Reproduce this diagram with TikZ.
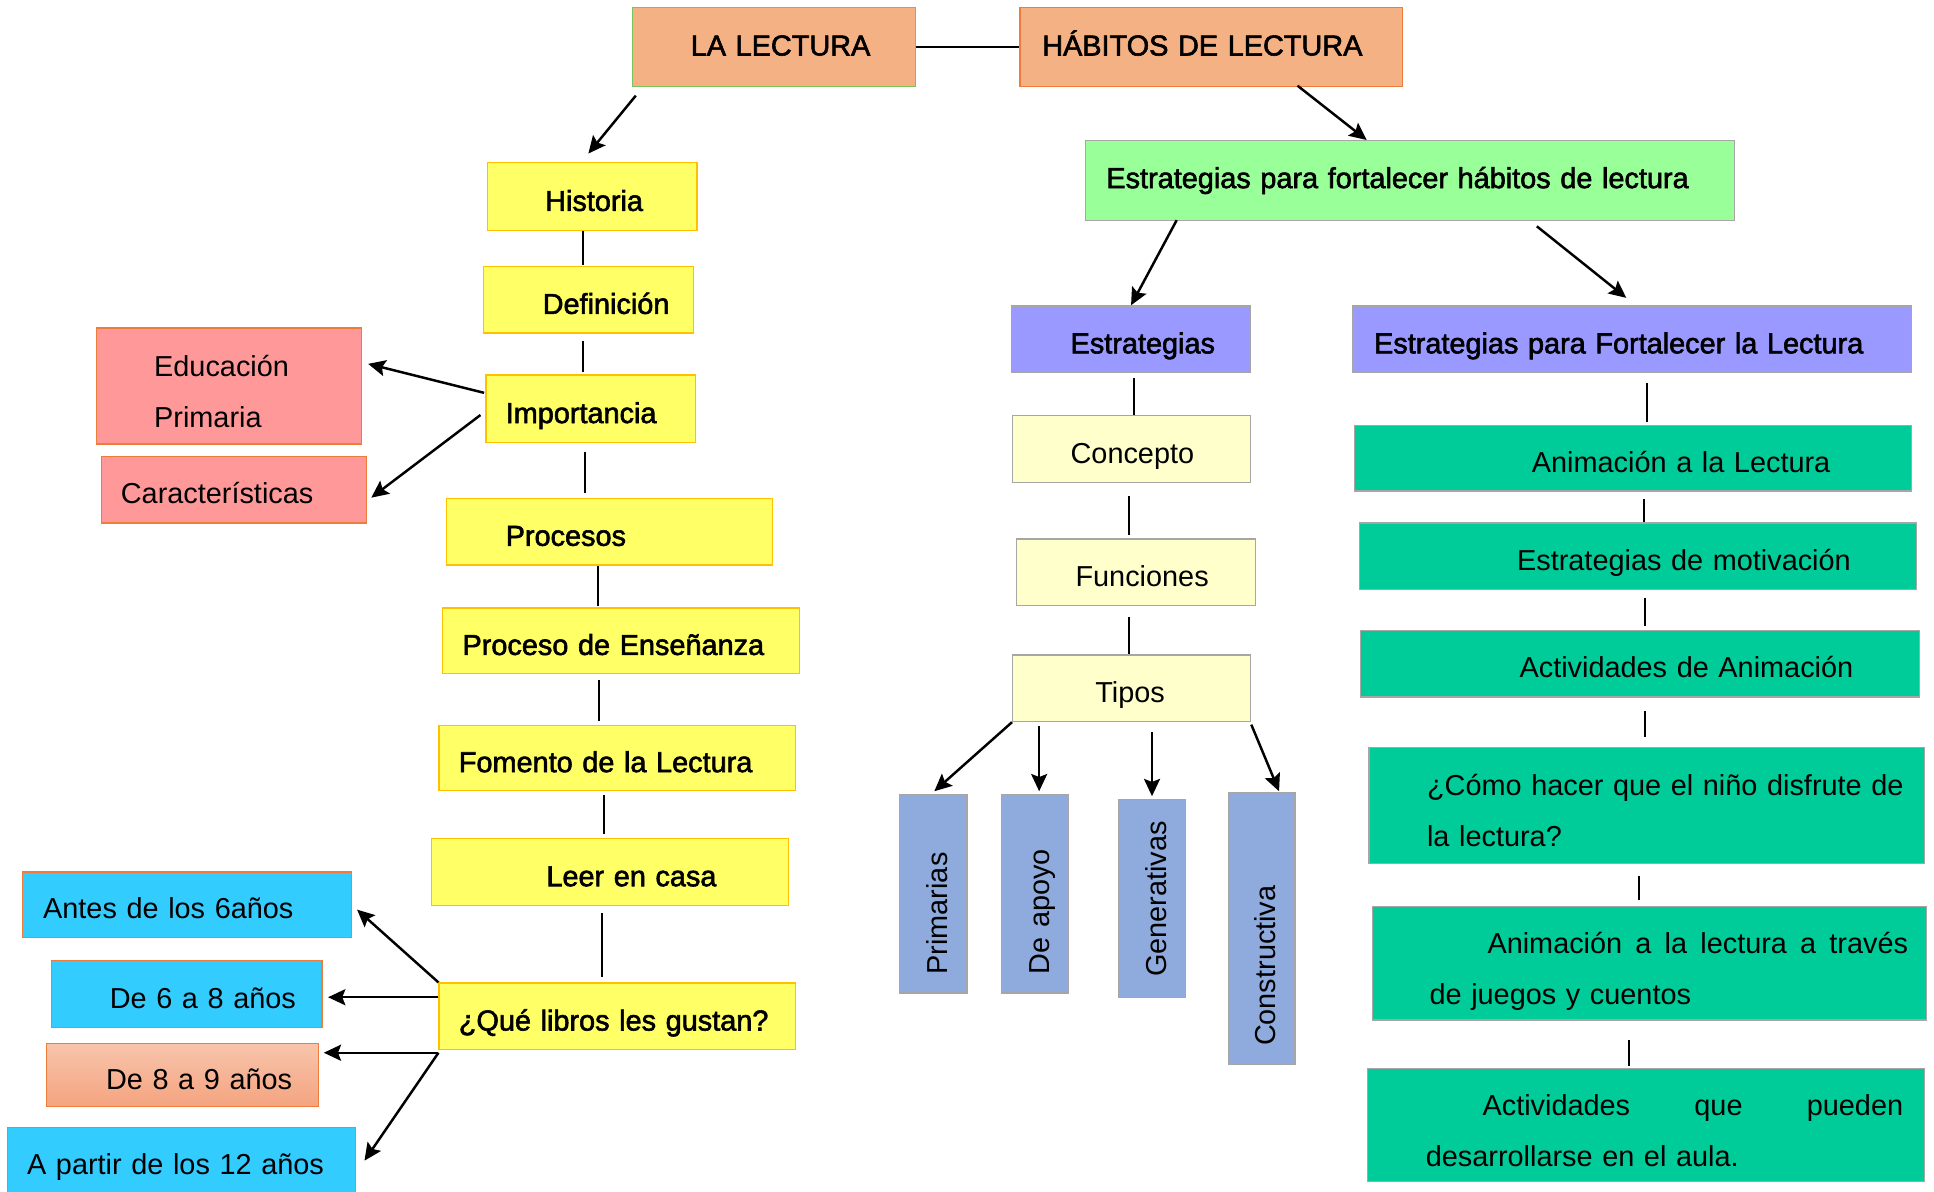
\documentclass[tikz,border=0pt]{standalone}
\usepackage{fontspec}
\setmainfont{Liberation Sans}
\newfontfamily\heavyfont[FakeBold=2]{Liberation Sans}
\usepackage{tikz}
\usetikzlibrary{arrows.meta}
\definecolor{salmon}{HTML}{F4B183}
\definecolor{leafline}{HTML}{7CC35A}
\definecolor{orangeline}{HTML}{EE7D3B}
\definecolor{lemon}{HTML}{FFFF66}
\definecolor{goldline}{HTML}{FFC000}
\definecolor{rose}{HTML}{FF9999}
\definecolor{sky}{HTML}{33CCFF}
\definecolor{peachtop}{HTML}{F8C4AC}
\definecolor{peachbottom}{HTML}{F4A47F}
\definecolor{mint}{HTML}{99FF99}
\definecolor{lilac}{HTML}{9999FF}
\definecolor{cream}{HTML}{FFFFCC}
\definecolor{steel}{HTML}{8FAADC}
\definecolor{jade}{HTML}{00CC99}
\definecolor{greyline}{HTML}{A6A6A6}

\begin{document}
\begin{tikzpicture}[
  x=1pt, y=-1pt,
  every node/.style={font=\fontsize{23.4}{41.5}\selectfont},
  heavy/.style={font=\heavyfont\fontsize{23.4}{41.5}\selectfont},
  box/.style 2 args={draw, line width=1pt, inner xsep=0pt, inner ysep=0pt,
    align=left, text width=#1pt, minimum width=#1pt, minimum height=#2pt,
    text height=26pt, text depth=3pt},
  twolines/.style={text height=17pt, text depth=33pt},
  titlebox/.style={fill=salmon, heavy, text height=17pt, text depth=3pt},
  lemonbox/.style={fill=lemon, draw=goldline, heavy},
  rosebox/.style={fill=rose, draw=orangeline},
  skybox/.style={fill=sky, draw=orangeline},
  peachbox/.style={top color=peachtop, bottom color=peachbottom, draw=orangeline},
  mintbox/.style={fill=mint, draw=greyline, heavy},
  lilacbox/.style={fill=lilac, draw=greyline, heavy},
  creambox/.style={fill=cream, draw=greyline},
  steelbox/.style={fill=steel, draw=greyline, rotate=90},
  jadebox/.style={fill=jade, draw=greyline},
  link/.style={line width=1.6pt},
  arr/.style={line width=2pt, -{Stealth[length=14pt,width=13pt,inset=2.5pt]}}
]
\useasboundingbox (0,0) rectangle (1568,966);

% titles
\node[box={229}{64}, titlebox, draw=leafline] (lalectura) at (627.5,38) {\hspace*{47pt}LA LECTURA};
\node[box={310}{64}, titlebox, draw=orangeline] (habitos) at (982,38) {\hspace*{18pt}HÁBITOS DE LECTURA};

% left column
\node[box={170}{55}, lemonbox] (historia) at (480,159.5) {\hspace*{47pt}Historia};
\node[box={170}{54}, lemonbox] (definicion) at (477,243) {\hspace*{48pt}Definición};
\node[box={170}{55}, lemonbox] (importancia) at (479,331.5) {\hspace*{16pt}Importancia};
\node[box={264}{54}, lemonbox] (procesos) at (494,431) {\hspace*{48pt}Procesos};
\node[box={289}{53}, lemonbox] (ensenanza) at (503.5,519.5) {\hspace*{16pt}Proceso de Enseñanza};
\node[box={289}{53}, lemonbox] (fomento) at (500.5,614.5) {\hspace*{16pt}Fomento de la Lectura};
\node[box={289}{54}, lemonbox] (leercasa) at (494.5,707) {\hspace*{93pt}Leer en casa};
\node[box={289}{54}, lemonbox] (quelibros) at (500.5,824) {\hspace*{16pt}¿Qué libros les gustan?};

\node[box={215}{94}, rosebox, twolines] (educacion) at (185.5,313) {\hspace*{47pt}Educación\\\hspace*{47pt}Primaria};
\node[box={215}{54}, rosebox] (caracteristicas) at (189.5,397) {\hspace*{16pt}Características};

\node[box={267}{53}, skybox] (antes) at (151.5,733.5) {\hspace*{17pt}Antes de los 6años};
\node[box={219}{54}, skybox] (seisocho) at (151.5,806) {\hspace*{47pt}De 6 a 8 años};
\node[box={220}{51}, peachbox] (ochonueve) at (148,871.5) {\hspace*{48pt}De 8 a 9 años};
\node[box={282}{54}, skybox] (doce) at (147,941) {\hspace*{16pt}A partir de los 12 años};

% right part
\node[box={526}{65}, mintbox, text height=17pt, text depth=5pt] (fortalecer) at (1143,146.5) {\hspace*{17pt}Estrategias para fortalecer hábitos de lectura};
\node[box={194}{54}, lilacbox] (estrategias) at (917,275) {\hspace*{48pt}Estrategias};
\node[box={453}{54}, lilacbox] (paralectura) at (1323.5,275) {\hspace*{17pt}Estrategias para Fortalecer la Lectura};

\node[box={193}{54}, creambox] (concepto) at (917.5,364) {\hspace*{47pt}Concepto};
\node[box={194}{54}, creambox] (funciones) at (921,464) {\hspace*{48pt}Funciones};
\node[box={193}{54}, creambox] (tipos) at (917.5,558) {\hspace*{67pt}Tipos};

\node[box={161}{55}, steelbox] (primarias) at (756.5,724.5) {\hspace*{15pt}Primarias};
\node[box={161}{54}, steelbox] (apoyo) at (839,724.5) {\hspace*{15pt}De apoyo};
\node[box={161}{54}, steelbox] (generativas) at (934,728.5) {\hspace*{17pt}Generativas};
\node[box={220}{54}, steelbox] (constructiva) at (1023,753) {\hspace*{15pt}Constructiva};

\node[box={452}{53}, jadebox] (animacion) at (1324,371.5) {\hspace*{144pt}Animación a la Lectura};
\node[box={452}{54}, jadebox] (motivacion) at (1328,451) {\hspace*{128pt}Estrategias de motivación};
\node[box={453}{54}, jadebox] (actividades) at (1329.5,538) {\hspace*{129pt}Actividades de Animación};
\node[box={450}{94}, jadebox, twolines] (disfrute) at (1335,653) {\hspace*{47pt}¿Cómo hacer que el niño disfrute de\\\hspace*{47pt}la lectura?};
\node[box={449}{92}, jadebox, twolines] (juegos) at (1337.5,781) {\hspace*{93pt}Animación\hfill a\hfill la\hfill lectura\hfill a\hfill través\hspace*{15pt}\mbox{}\\\hspace*{46pt}de juegos y cuentos};
\node[box={451}{92}, jadebox, twolines] (aula) at (1334.5,912) {\hspace*{93pt}Actividades\hfill que\hfill pueden\hspace*{17pt}\mbox{}\\\hspace*{47pt}desarrollarse en el aula.};

% plain links
\draw[link] (lalectura) -- (habitos);
\foreach \a/\b/\x/\s/\e in {historia/definicion/473/0pt/1pt, definicion/importancia/473/6pt/2pt,
    importancia/procesos/474/7pt/4pt, procesos/ensenanza/485/0pt/1pt, ensenanza/fomento/486/5pt/3pt,
    fomento/leercasa/490/3pt/3pt, leercasa/quelibros/488/6pt/4pt,
    estrategias/concepto/919/4pt/0pt, concepto/funciones/915/11pt/3pt, funciones/tipos/915/9pt/0pt,
    paralectura/animacion/1335/8pt/2pt, animacion/motivacion/1333/6pt/0pt,
    motivacion/actividades/1334/6pt/3pt, actividades/disfrute/1334/11pt/8pt,
    disfrute/juegos/1329/10pt/5pt, juegos/aula/1321/16pt/1pt}
  \draw[link, shorten <=\s, shorten >=\e] (\a.south -| \x,0) -- (\b.north -| \x,0);

% arrows
\draw[arr] ([xshift=3pt,yshift=-7pt]lalectura.south west) -- ([xshift=-3pt,yshift=7pt]historia.north);
\draw[arr] ([xshift=70pt,yshift=1pt]habitos.south) -- ([xshift=-35pt]fortalecer.north);
\draw[arr] ([xshift=-189pt,yshift=1pt]fortalecer.south) -- (estrategias.north);
\draw[arr] ([xshift=103pt,yshift=-4pt]fortalecer.south) -- ([xshift=-5pt,yshift=6pt]paralectura.north);
\draw[arr] ([xshift=-1pt,yshift=13pt]importancia.west) -- ([xshift=5pt,yshift=18pt]educacion.east);
\draw[arr] ([xshift=-4pt,yshift=-5pt]importancia.west) -- ([xshift=3.5pt,yshift=-6.5pt]caracteristicas.east);

\coordinate (q1) at ([yshift=-12pt]quelibros.north west);
\coordinate (q2) at ([yshift=-2pt]quelibros.south west);
\draw[arr] (quelibros.north west) -- ([xshift=4pt,yshift=-4pt]antes.east);
\draw[arr, shorten >=4.5pt] (q1) -- (q1 -| seisocho.east);
\draw[arr, shorten >=4pt] (q2) -- (q2 -| ochonueve.east);
\draw[arr] (q2) -- ([xshift=7pt]doce.east);

\coordinate (t2) at ([xshift=22pt,yshift=-3pt]tipos.south west);
\draw[arr] (tipos.south west) -- ([xshift=1pt,yshift=2pt]primarias.east);
\draw[arr, shorten >=2pt] (t2) -- (t2 |- apoyo.east);
\draw[arr, shorten <=8pt, shorten >=2pt] (tipos.south -| generativas.east) -- (generativas.east);
\draw[arr] ([yshift=-2pt]tipos.south east) -- ([xshift=14pt,yshift=1pt]constructiva.east);
\end{tikzpicture}
\end{document}
